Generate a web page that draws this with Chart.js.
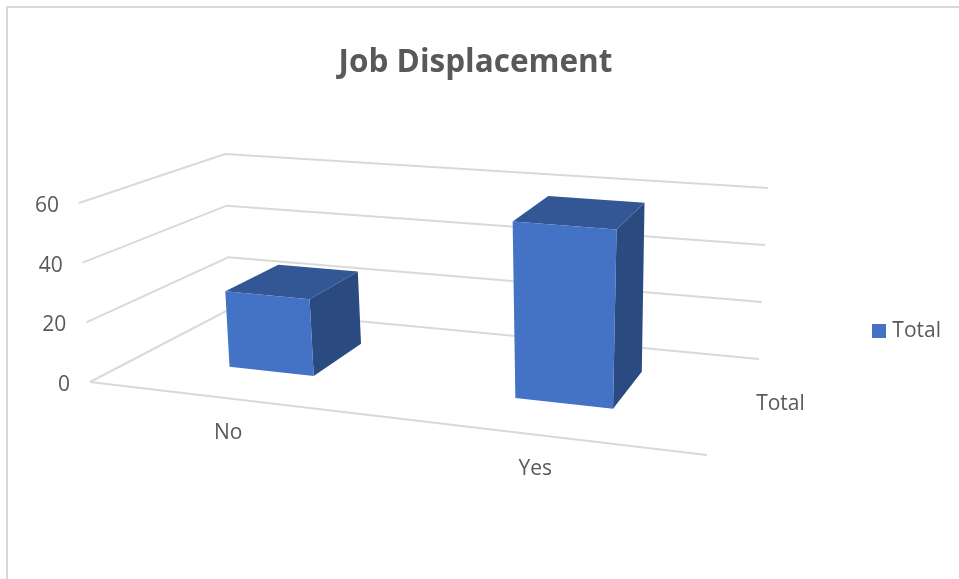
<!DOCTYPE html>
<html>
<head>
<meta charset="utf-8">
<style>
  html, body { margin: 0; padding: 0; background: #fff; overflow: hidden; }
  #wrap { position: relative; width: 959px; height: 579px; }
  #frame { position: absolute; left: 6px; top: 6px; right: 0; bottom: 0; border-left: 2px solid #d9d9d9; border-top: 2px solid #d9d9d9; }
</style>
</head>
<body>
<div id="wrap">
  <div id="frame"></div>
  <canvas id="mycanvas" width="959" height="579" style="position:absolute;left:0;top:0"></canvas>
</div>
<script src="https://cdn.jsdelivr.net/npm/chart.js@4"></script>
<script>
var chartTitle = "Job Displacement";
var seriesName = "Total";
var categories = ["No", "Yes"];
var totalValues = [26, 58];
var yTicks = [0, 20, 40, 60];

// corners of the 3d box on screen: front left, front right, back right, back left
var floorQuad = [[90, 382], [707, 455], [759, 359], [230, 309]];
var roofQuad = [[79, 203], [723, 258], [768, 188], [225, 154]];
var barDepth = [0.31, 0.72];
var barShift = 0.003;
var textColor = "#595959";
var gridColor = "#d9d9d9";

// unit square to quad
function makeHomography(q) {
	var dx1 = q[1][0] - q[2][0], dx2 = q[3][0] - q[2][0], sx = q[0][0] - q[1][0] + q[2][0] - q[3][0];
	var dy1 = q[1][1] - q[2][1], dy2 = q[3][1] - q[2][1], sy = q[0][1] - q[1][1] + q[2][1] - q[3][1];
	var den = dx1 * dy2 - dx2 * dy1;
	var g = (sx * dy2 - dx2 * sy) / den;
	var h = (dx1 * sy - sx * dy1) / den;
	var a = q[1][0] - q[0][0] + g * q[1][0], b = q[3][0] - q[0][0] + h * q[3][0];
	var d = q[1][1] - q[0][1] + g * q[1][1], e = q[3][1] - q[0][1] + h * q[3][1];
	return function(u, w) {
		var k = g * u + h * w + 1;
		return [(a * u + b * w + q[0][0]) / k, (d * u + e * w + q[0][1]) / k];
	};
}
var floorMap = makeHomography(floorQuad);
var roofMap = makeHomography(roofQuad);

// u along the categories, v up the value axis, w into the depth
function project(u, v, w) {
	var p0 = floorMap(u, w), p1 = roofMap(u, w);
	return [p0[0] + (p1[0] - p0[0]) * v, p0[1] + (p1[1] - p0[1]) * v];
}

function face(ctx, pts, color) {
	ctx.beginPath();
	ctx.moveTo(pts[0][0], pts[0][1]);
	for (var i = 1; i < pts.length; i++) ctx.lineTo(pts[i][0], pts[i][1]);
	ctx.closePath();
	ctx.fillStyle = color;
	ctx.fill();
}

function seg(ctx, pts) {
	ctx.beginPath();
	ctx.moveTo(pts[0][0], pts[0][1]);
	for (var i = 1; i < pts.length; i++) ctx.lineTo(pts[i][0], pts[i][1]);
	ctx.stroke();
}

var box3d = {
	id: "box3d",
	beforeDatasetsDraw: function(chart) {
		var ctx = chart.ctx, area = chart.chartArea, y = chart.scales.y, x = chart.scales.x;
		ctx.save();
		ctx.strokeStyle = gridColor;
		ctx.lineWidth = 2;
		ctx.font = "21px 'Open Sans'";
		ctx.fillStyle = textColor;
		ctx.textBaseline = "middle";
		yTicks.forEach(function(t) {
			var v = (area.bottom - y.getPixelForValue(t)) / area.height;
			seg(ctx, [project(0, v, 0), project(0, v, 1), project(1, v, 1)]);
			var p = project(0, v, 0);
			ctx.textAlign = "right";
			ctx.fillText(String(t), p[0] - 20, p[1] + 3);
		});
		seg(ctx, [project(0, 0, 0), project(1, 0, 0)]);
		ctx.textAlign = "center";
		categories.forEach(function(c, i) {
			var p = project((x.getPixelForValue(i) - area.left) / area.width, 0, 0);
			ctx.fillText(c, p[0] + 1.5, p[1] + 35);
		});
		var d = project(1, 0, 0.5);
		ctx.fillText(seriesName, d[0] + 45, d[1] + 2);
		ctx.restore();
	},
	beforeDatasetDraw: function(chart, args) {
		var ctx = chart.ctx, area = chart.chartArea;
		var meta = chart.getDatasetMeta(args.index);
		meta.data.forEach(function(bar) {
			var u0 = (bar.x - bar.width / 2 - area.left) / area.width + barShift;
			var u1 = (bar.x + bar.width / 2 - area.left) / area.width + barShift;
			var v = (area.bottom - bar.y) / area.height;
			var w0 = barDepth[0], w1 = barDepth[1];
			face(ctx, [project(u1, 0, w0), project(u1, 0, w1), project(u1, v, w1), project(u1, v, w0)], "#2a4a80");
			face(ctx, [project(u0, v, w0), project(u1, v, w0), project(u1, v, w1), project(u0, v, w1)], "#335795");
			face(ctx, [project(u0, 0, w0), project(u1, 0, w0), project(u1, v, w0), project(u0, v, w0)], "#4472c4");
		});
		return false;
	}
};

// legend swatch, narrower layout box so the text sits close to it like the original
var swatch = document.createElement("canvas");
swatch.width = 14;
swatch.height = 14;
var sctx = swatch.getContext("2d");
sctx.fillStyle = "#4472c4";
sctx.fillRect(0, 0, 14, 14);

var chart = new Chart(document.getElementById("mycanvas"), {
	type: "bar",
	data: {
		labels: categories,
		datasets: [{
			label: seriesName,
			data: totalValues,
			backgroundColor: "#4472c4",
			pointStyle: swatch,
			barPercentage: 0.31,
			categoryPercentage: 1
		}]
	},
	plugins: [box3d],
	options: {
		responsive: false,
		animation: false,
		layout: { padding: { right: 8 } },
		scales: {
			x: { display: false },
			y: { display: false, min: 0, max: 60 }
		},
		plugins: {
			title: {
				display: true,
				text: chartTitle,
				color: textColor,
				font: { family: "'Open Sans'", size: 31.5, weight: "bold" },
				padding: { top: 44, bottom: 1 }
			},
			legend: {
				position: "right",
				fullSize: false,
				labels: {
					usePointStyle: true,
					pointStyleWidth: 5,
					color: textColor,
					font: { family: "'Open Sans'", size: 21 },
					padding: 22
				}
			},
			tooltip: { enabled: false }
		}
	}
});
</script>
</body>
</html>
